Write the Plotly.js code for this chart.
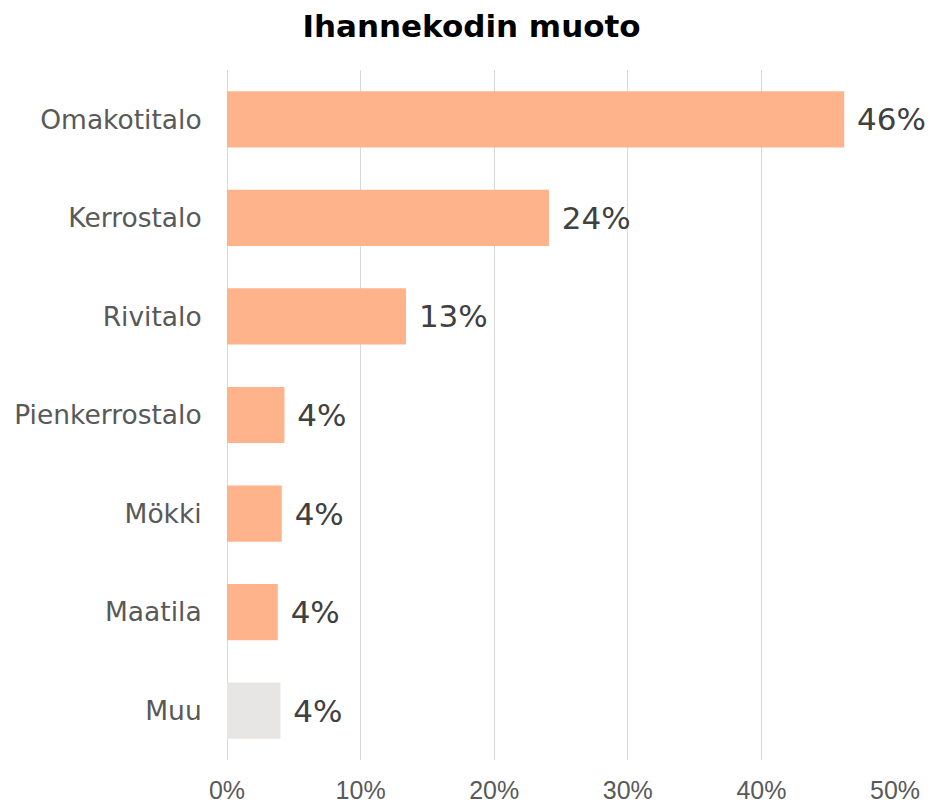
<!DOCTYPE html>
<html>
<head>
<meta charset="utf-8">
<script src="https://cdn.plot.ly/plotly-3.0.1.min.js"></script>
<style>html,body{margin:0;padding:0;background:#fff;}#chart{width:931px;height:804px;}</style>
</head>
<body>
<div id="chart"></div>
<script>
const categories = ["Omakotitalo", "Kerrostalo", "Rivitalo", "Pienkerrostalo", "Mökki", "Maatila", "Muu"];
const values = [46.2, 24.1, 13.4, 4.3, 4.1, 3.8, 4.0];
const barColors = ["#FFB38A", "#FFB38A", "#FFB38A", "#FFB38A", "#FFB38A", "#FFB38A", "#E8E6E4"];
const tickValues = [0, 10, 20, 30, 40, 50];
const tickLabels = ["0%", "10%", "20%", "30%", "40%", "50%"];

const trace = {
  type: "bar",
  orientation: "h",
  y: categories,
  x: values,
  marker: { color: barColors },
  texttemplate: " %{x:.0f}%",
  textposition: "outside",
  cliponaxis: false,
  textfont: { family: "DejaVu Sans", size: 31, color: "#404040" },
  hoverinfo: "none"
};

const layout = {
  width: 931,
  height: 804,
  paper_bgcolor: "#ffffff",
  plot_bgcolor: "#ffffff",
  margin: { l: 227, r: 36, t: 70, b: 44 },
  title: {
    text: "<b>Ihannekodin muoto</b>",
    x: 0.5065, xref: "container", xanchor: "center",
    y: 0.968, yref: "container", yanchor: "middle",
    font: { family: "DejaVu Sans", size: 31, color: "#000000" }
  },
  showlegend: false,
  bargap: 0.43,
  xaxis: {
    range: [0, 50],
    tickvals: tickValues,
    ticktext: tickLabels,
    showgrid: true,
    gridcolor: "#D9D9D9",
    gridwidth: 1,
    zeroline: true,
    zerolinecolor: "#D9D9D9",
    zerolinewidth: 1,
    showline: false,
    ticks: "outside",
    ticklen: 8,
    tickcolor: "rgba(0,0,0,0)",
    tickfont: { family: "Liberation Sans", size: 25, color: "#595959" },
    fixedrange: true
  },
  yaxis: {
    autorange: "reversed",
    showgrid: false,
    zeroline: false,
    showline: false,
    ticks: "outside",
    ticklen: 19,
    tickcolor: "rgba(0,0,0,0)",
    tickfont: { family: "DejaVu Sans", size: 26.5, color: "#595959" },
    fixedrange: true
  }
};

Plotly.newPlot("chart", [trace], layout, { displayModeBar: false, staticPlot: true });
</script>
</body>
</html>
